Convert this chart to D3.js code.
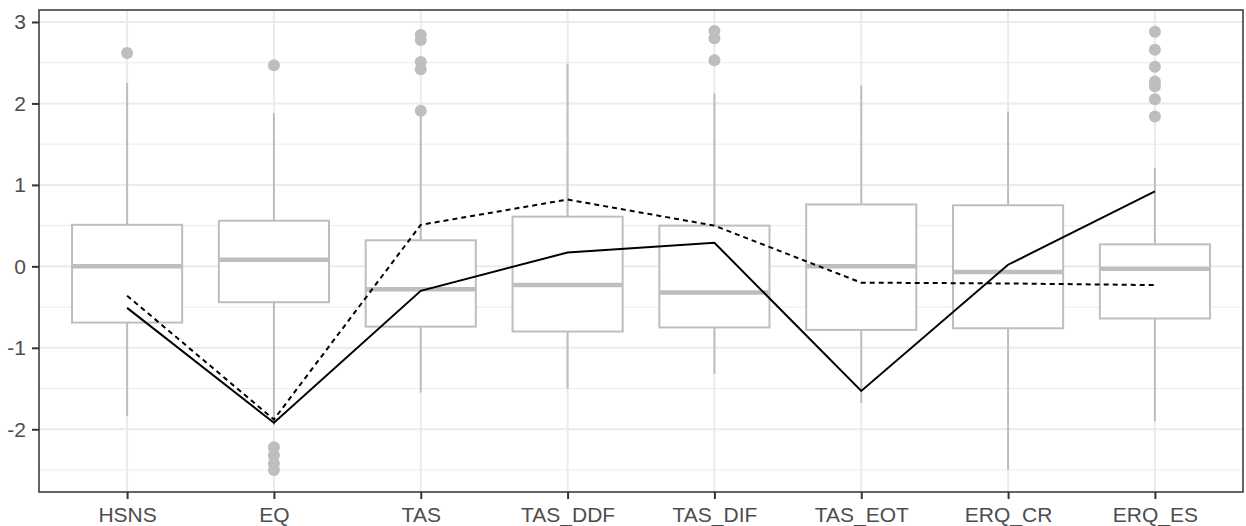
<!DOCTYPE html>
<html>
<head>
<meta charset="utf-8">
<script src="https://cdn.jsdelivr.net/npm/d3@7"></script>
<style>
  body { margin: 0; background: #fff; }
  svg { display: block; font-family: "Liberation Sans", Arial, sans-serif; }
</style>
</head>
<body>
<div class="canva"></div>
<script>
const categories = ["HSNS", "EQ", "TAS", "TAS_DDF", "TAS_DIF", "TAS_EOT", "ERQ_CR", "ERQ_ES"]

// box stats per category: lower whisker, q1, median, q3, upper whisker
const whiskLow = [-1.84, -1.95, -1.55, -1.50, -1.32, -1.68, -2.50, -1.90]
const q1       = [-0.69, -0.44, -0.74, -0.80, -0.75, -0.78, -0.76, -0.64]
const medians  = [ 0.00,  0.08, -0.28, -0.23, -0.32,  0.00, -0.07, -0.03]
const q3       = [ 0.51,  0.56,  0.32,  0.61,  0.50,  0.76,  0.75,  0.27]
const whiskHigh= [ 2.25,  1.88,  1.85,  2.49,  2.12,  2.22,  1.90,  1.21]

const outliers = [
    [2.62],
    [2.47, -2.22, -2.32, -2.42, -2.50],
    [2.84, 2.78, 2.51, 2.42, 1.91],
    [],
    [2.89, 2.80, 2.53],
    [],
    [],
    [2.88, 2.66, 2.45, 2.27, 2.21, 2.05, 1.84]
]

const solidLine  = [-0.51, -1.92, -0.30, 0.17, 0.29, -1.53, 0.02, 0.92]
const dashedLine = [-0.36, -1.88, 0.51, 0.82, 0.50, -0.20, -0.21, -0.23]

const yTicks = [-2, -1, 0, 1, 2, 3]
const yMinor = [-2.5, -1.5, -0.5, 0.5, 1.5, 2.5]

const W = 1246, H = 526
const m = { left: 39, right: 3, top: 10, bottom: 34 }

const svg = d3.select(".canva").append("svg")
    .attr("width", W)
    .attr("height", H)

const x = d3.scalePoint()
    .domain(categories)
    .range([m.left, W - m.right])
    .padding(0.6)

const y = d3.scaleLinear()
    .domain([-2.77, 3.147])
    .range([H - m.bottom, m.top])

const step = x.step()
const boxW = step * 0.75

// grid
const grid = svg.append("g")
grid.selectAll(".minor").data(yMinor).enter().append("line")
    .attr("x1", m.left).attr("x2", W - m.right)
    .attr("y1", d => y(d)).attr("y2", d => y(d))
    .attr("stroke", "#ebebeb").attr("stroke-width", 1)
grid.selectAll(".major").data(yTicks).enter().append("line")
    .attr("x1", m.left).attr("x2", W - m.right)
    .attr("y1", d => y(d)).attr("y2", d => y(d))
    .attr("stroke", "#ebebeb").attr("stroke-width", 2)
grid.selectAll(".vmajor").data(categories).enter().append("line")
    .attr("x1", d => x(d)).attr("x2", d => x(d))
    .attr("y1", m.top).attr("y2", H - m.bottom)
    .attr("stroke", "#ebebeb").attr("stroke-width", 2)

// boxplots
const boxData = categories.map((c, i) => ({
    c, lo: whiskLow[i], q1: q1[i], med: medians[i], q3: q3[i], hi: whiskHigh[i], out: outliers[i]
}))
const boxColor = "#bebebe"
const boxes = svg.append("g").selectAll("g").data(boxData).enter().append("g")

boxes.append("line")
    .attr("x1", d => x(d.c)).attr("x2", d => x(d.c))
    .attr("y1", d => y(d.hi)).attr("y2", d => y(d.q3))
    .attr("stroke", boxColor).attr("stroke-width", 2)
boxes.append("line")
    .attr("x1", d => x(d.c)).attr("x2", d => x(d.c))
    .attr("y1", d => y(d.q1)).attr("y2", d => y(d.lo))
    .attr("stroke", boxColor).attr("stroke-width", 2)
boxes.append("rect")
    .attr("x", d => x(d.c) - boxW / 2)
    .attr("width", boxW)
    .attr("y", d => y(d.q3))
    .attr("height", d => y(d.q1) - y(d.q3))
    .attr("fill", "#fff").attr("stroke", boxColor).attr("stroke-width", 2)
boxes.append("line")
    .attr("x1", d => x(d.c) - boxW / 2).attr("x2", d => x(d.c) + boxW / 2)
    .attr("y1", d => y(d.med)).attr("y2", d => y(d.med))
    .attr("stroke", boxColor).attr("stroke-width", 4.5)
boxes.selectAll("circle").data(d => d.out.map(v => ({ c: d.c, v }))).enter().append("circle")
    .attr("cx", d => x(d.c)).attr("cy", d => y(d.v))
    .attr("r", 6).attr("fill", boxColor)

// lines
const line = d3.line()
    .x((d, i) => x(categories[i]))
    .y(d => y(d))

svg.append("path").datum(dashedLine)
    .attr("d", line).attr("fill", "none")
    .attr("stroke", "#000").attr("stroke-width", 2)
    .attr("stroke-dasharray", "5,4")
svg.append("path").datum(solidLine)
    .attr("d", line).attr("fill", "none")
    .attr("stroke", "#000").attr("stroke-width", 2)

// panel border
svg.append("rect")
    .attr("x", m.left).attr("y", m.top)
    .attr("width", W - m.left - m.right)
    .attr("height", H - m.top - m.bottom)
    .attr("fill", "none").attr("stroke", "#333").attr("stroke-width", 1.5)

// axes
const xAxis = svg.append("g")
    .attr("transform", `translate(0,${H - m.bottom})`)
    .call(d3.axisBottom(x).tickSize(7).tickPadding(8))
xAxis.select(".domain").remove()
xAxis.selectAll("line").attr("stroke", "#333").attr("stroke-width", 2)
xAxis.selectAll("text").attr("fill", "#4d4d4d").attr("font-size", 21)
    .attr("font-family", "Liberation Sans, Arial, sans-serif")

const yAxis = svg.append("g")
    .attr("transform", `translate(${m.left},0)`)
    .call(d3.axisLeft(y).tickValues(yTicks).tickFormat(d3.format("d")).tickSize(7).tickPadding(6))
yAxis.select(".domain").remove()
yAxis.selectAll("line").attr("stroke", "#333").attr("stroke-width", 2)
yAxis.selectAll("text").attr("fill", "#4d4d4d").attr("font-size", 21)
    .attr("font-family", "Liberation Sans, Arial, sans-serif")
    .text(d => d < 0 ? "-" + Math.abs(d) : d)
</script>
</body>
</html>
